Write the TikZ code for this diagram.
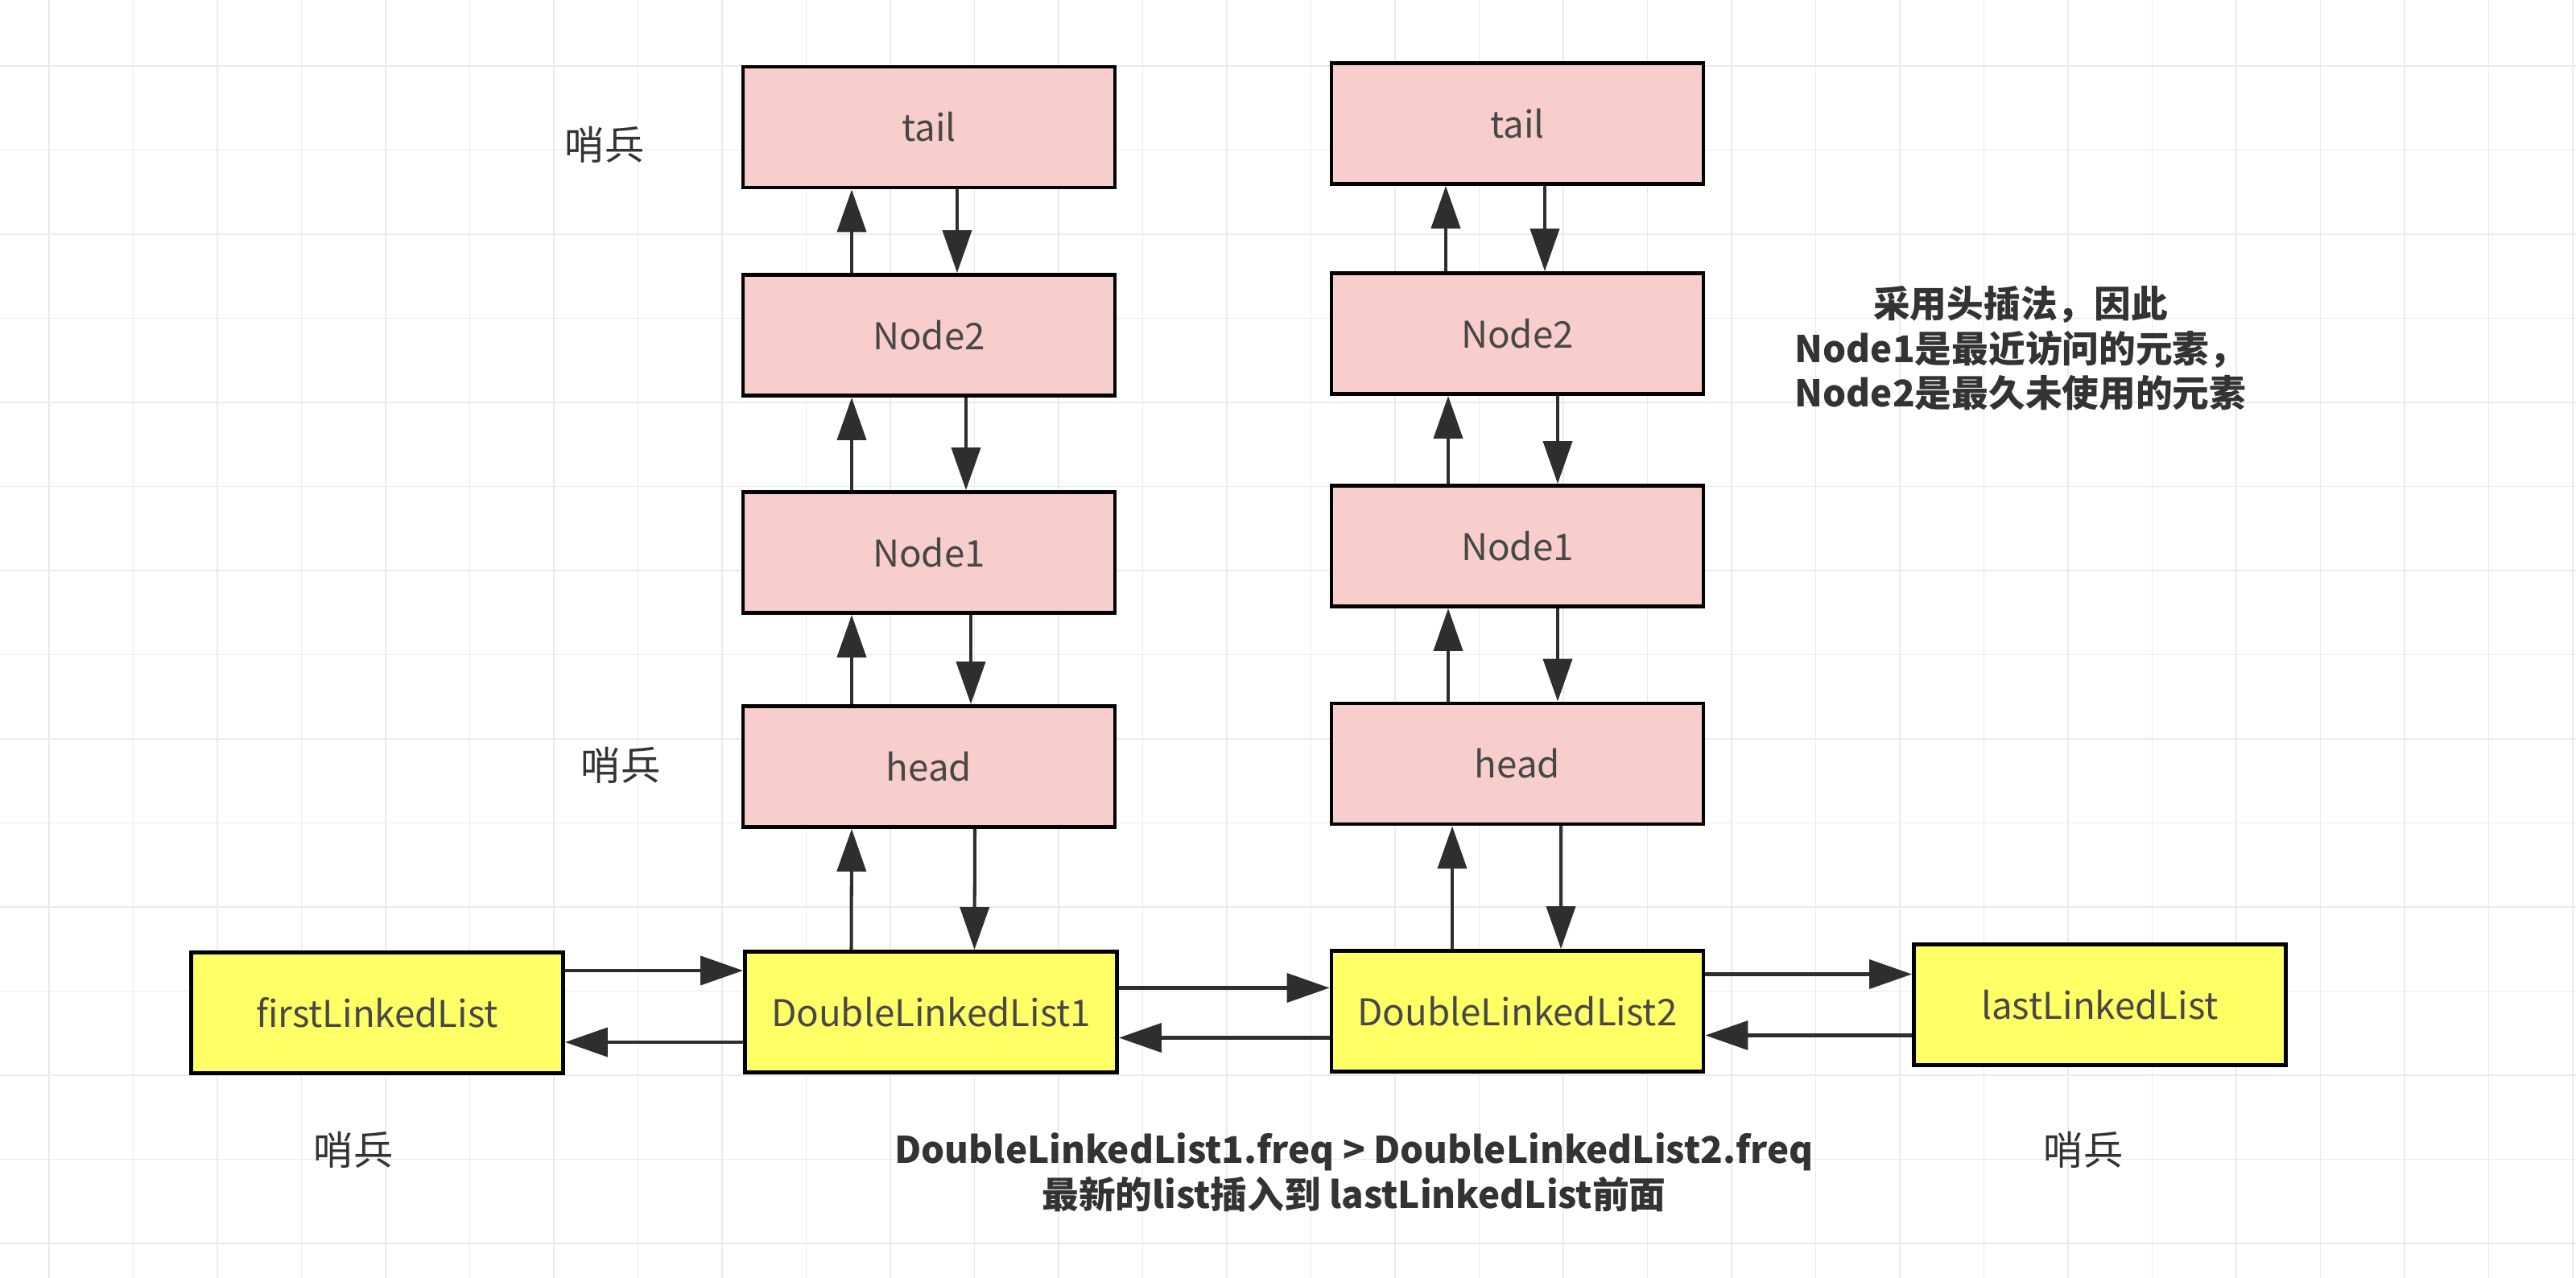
\documentclass[tikz,border=0pt]{standalone}
\usepackage{fontspec}
\setmainfont{Noto Sans CJK SC}
\usetikzlibrary{arrows.meta}
\definecolor{pinkfill}{HTML}{F8CECC}
\definecolor{yellowfill}{HTML}{FFFF66}
\definecolor{gridgray}{HTML}{EAEAEA}
\definecolor{inkgray}{HTML}{333333}

\begin{document}
\begin{tikzpicture}[
    box/.style={draw=black, line width=1.4pt, minimum width=4.62cm, minimum height=1.5cm,
      text=black!72, font=\fontsize{13}{16}\selectfont},
    pinkbox/.style={box, fill=pinkfill},
    yellowbox/.style={box, fill=yellowfill},
    link/.style={draw=black!82, line width=1.15pt, -{Triangle[length=5.3mm, width=3.6mm]}},
    note/.style={text=inkgray, font=\fontsize{14}{16}\selectfont},
    boldnote/.style={note, align=center, font=\fontsize{13}{15.8}\selectfont\bfseries}
  ]
  \useasboundingbox (0,0) rectangle (32,-15.88);

  % 背景网格
  \begin{scope}
    \clip (0,0) rectangle (32,-15.88);
    \draw[gridgray, line width=0.5pt, shift={(0.61,-0.82)}] (-1,1) grid[step=1.045] (32,-16);
  \end{scope}

  % 左边的链表
  \node[pinkbox] (tailA) at (11.54,-1.58) {tail};
  \node[pinkbox] (nodeA2) at (11.54,-4.165) {Node2};
  \node[pinkbox] (nodeA1) at (11.54,-6.865) {Node1};
  \node[pinkbox] (headA) at (11.54,-9.525) {head};

  % 右边的链表
  \node[pinkbox] (tailB) at (18.85,-1.535) {tail};
  \node[pinkbox] (nodeB2) at (18.85,-4.145) {Node2};
  \node[pinkbox] (nodeB1) at (18.85,-6.785) {Node1};
  \node[pinkbox] (headB) at (18.85,-9.49) {head};

  % 底部的频次链表
  \node[yellowbox] (first) at (4.685,-12.585) {firstLinkedList};
  \node[yellowbox] (dlistA) at (11.565,-12.575) {DoubleLinkedList1};
  \node[yellowbox] (dlistB) at (18.85,-12.565) {DoubleLinkedList2};
  \node[yellowbox] (last) at (26.085,-12.485) {lastLinkedList};

  % 左列的上下指针
  \draw[link] ([xshift=-9.6mm]nodeA2.north) -- ([xshift=-9.6mm]tailA.south);
  \draw[link] ([xshift=3.5mm]tailA.south) -- ([xshift=3.5mm]nodeA2.north);
  \draw[link] ([xshift=-9.6mm]nodeA1.north) -- ([xshift=-9.6mm]nodeA2.south);
  \draw[link] ([xshift=4.6mm]nodeA2.south) -- ([xshift=4.6mm]nodeA1.north);
  \draw[link] ([xshift=-9.6mm]headA.north) -- ([xshift=-9.6mm]nodeA1.south);
  \draw[link] ([xshift=5.2mm]nodeA1.south) -- ([xshift=5.2mm]headA.north);
  \draw[link] ([xshift=-9.9mm]dlistA.north) -- ([xshift=-9.6mm]headA.south);
  \draw[link] ([xshift=5.7mm]headA.south) -- ([xshift=5.4mm]dlistA.north);

  % 右列的上下指针
  \draw[link] ([xshift=-8.9mm]nodeB2.north) -- ([xshift=-8.9mm]tailB.south);
  \draw[link] ([xshift=3.4mm]tailB.south) -- ([xshift=3.4mm]nodeB2.north);
  \draw[link] ([xshift=-8.6mm]nodeB1.north) -- ([xshift=-8.6mm]nodeB2.south);
  \draw[link] ([xshift=5mm]nodeB2.south) -- ([xshift=5mm]nodeB1.north);
  \draw[link] ([xshift=-8.6mm]headB.north) -- ([xshift=-8.6mm]nodeB1.south);
  \draw[link] ([xshift=5mm]nodeB1.south) -- ([xshift=5mm]headB.north);
  \draw[link] ([xshift=-8.1mm]dlistB.north) -- ([xshift=-8.1mm]headB.south);
  \draw[link] ([xshift=5.4mm]headB.south) -- ([xshift=5.4mm]dlistB.north);

  % 底部左右指针
  \draw[link] ([yshift=5.25mm]first.east) -- ([yshift=5.25mm]first.east -| dlistA.west);
  \draw[link] ([yshift=-3.75mm]dlistA.west) -- ([yshift=-3.75mm]dlistA.west -| first.east);
  \draw[link] ([yshift=3mm]dlistA.east) -- ([yshift=3mm]dlistA.east -| dlistB.west);
  \draw[link] ([yshift=-3.3mm]dlistB.west) -- ([yshift=-3.3mm]dlistB.west -| dlistA.east);
  \draw[link] ([yshift=4.6mm]dlistB.east) -- ([yshift=4.6mm]dlistB.east -| last.west);
  \draw[link] ([yshift=-3.8mm]last.west) -- ([yshift=-3.8mm]last.west -| dlistB.east);

  % 哨兵标注
  \node[note] (guardTop) at (7.51,-1.80) {哨兵};
  \node[note] (guardHead) at (7.71,-9.51) {哨兵};
  \node[note] (guardFirst) at (4.39,-14.29) {哨兵};
  \node[note] (guardLast) at (25.88,-14.29) {哨兵};

  % 说明文字
  \node[boldnote] (lruNote) at (25.1,-4.33) {采用头插法，因此\\Node1是最近访问的元素，\\Node2是最久未使用的元素};
  \node[boldnote] (freqNote) at (16.82,-14.565) {DoubleLinkedList1.freq > DoubleLinkedList2.freq\\最新的list插入到 lastLinkedList前面};
\end{tikzpicture}
\end{document}
